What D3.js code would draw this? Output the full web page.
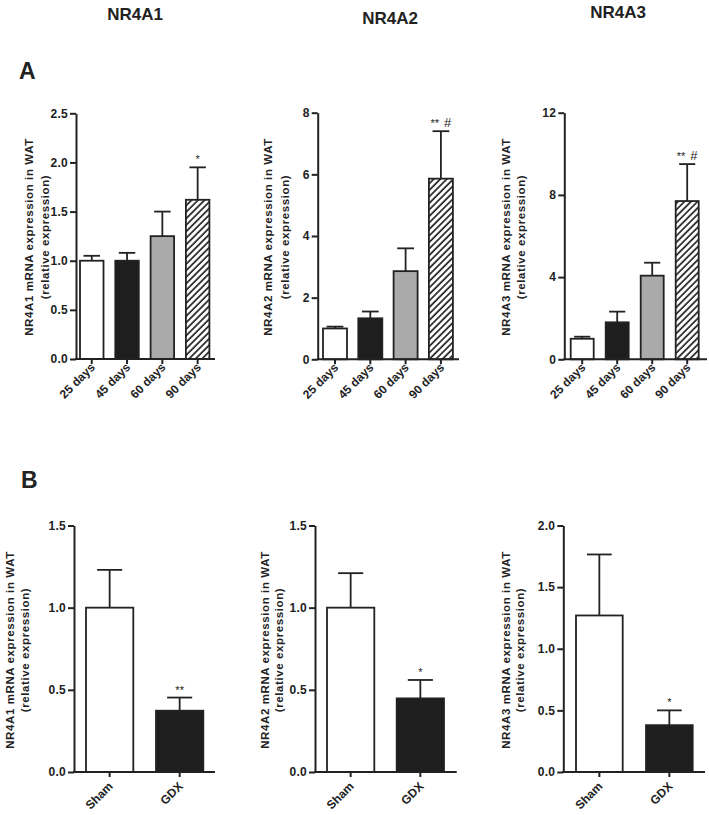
<!DOCTYPE html>
<html>
<head>
<meta charset="utf-8">
<script src="https://cdn.jsdelivr.net/npm/d3@7"></script>
<style>
  html, body { margin: 0; padding: 0; background: #fff; }
  svg { display: block; }
  text { font-family: "Liberation Sans", Arial, Helvetica, sans-serif; font-weight: bold; fill: #222; }
</style>
</head>
<body>
<svg id="chart" width="709" height="815"></svg>
<script>
// ---------------- DATA ----------------
const geneTitles = ["NR4A1", "NR4A2", "NR4A3"];
const ageCategories = ["25 days", "45 days", "60 days", "90 days"];
const gdxCategories = ["Sham", "GDX"];

const nr4a1Age = [1.00, 1.00, 1.25, 1.62];
const nr4a1AgeSem = [0.05, 0.08, 0.25, 0.33];
const nr4a2Age = [1.00, 1.33, 2.86, 5.86];
const nr4a2AgeSem = [0.06, 0.22, 0.74, 1.54];
const nr4a3Age = [1.00, 1.80, 4.07, 7.70];
const nr4a3AgeSem = [0.10, 0.52, 0.63, 1.80];

const nr4a1Gdx = [1.00, 0.373];
const nr4a1GdxSem = [0.23, 0.08];
const nr4a2Gdx = [1.00, 0.448];
const nr4a2GdxSem = [0.21, 0.112];
const nr4a3Gdx = [1.27, 0.38];
const nr4a3GdxSem = [0.495, 0.12];

// significance marks: [stars, hash]
const nr4a1AgeMarks = [null, null, null, ["*", ""]];
const nr4a2AgeMarks = [null, null, null, ["**", "#"]];
const nr4a3AgeMarks = [null, null, null, ["**", "#"]];
const nr4a1GdxMarks = [null, ["**", ""]];
const nr4a2GdxMarks = [null, ["*", ""]];
const nr4a3GdxMarks = [null, ["*", ""]];

const ticksA1 = [0, 0.5, 1.0, 1.5, 2.0, 2.5];
const ticksA2 = [0, 2, 4, 6, 8];
const ticksA3 = [0, 4, 8, 12];
const ticksB12 = [0, 0.5, 1.0, 1.5];
const ticksB3 = [0, 0.5, 1.0, 1.5, 2.0];

// ---------------- STYLE / LAYOUT ----------------
const ink = "#222";
const ageFills = ["#ffffff", "#1e1e1e", "#a9aaa9", "url(#hatch)"];
const gdxFills = ["#ffffff", "#1e1e1e"];

const svg = d3.select("#chart");
svg.append("rect").attr("width", 709).attr("height", 815).attr("fill", "#fff");

const defs = svg.append("defs");
const pat = defs.append("pattern")
  .attr("id", "hatch").attr("patternUnits", "userSpaceOnUse")
  .attr("width", 4.6).attr("height", 10)
  .attr("patternTransform", "rotate(45)");
pat.append("rect").attr("width", 4.6).attr("height", 10).attr("fill", "#fff");
pat.append("line").attr("x1", 1).attr("x2", 1).attr("y1", 0).attr("y2", 10)
  .attr("stroke", ink).attr("stroke-width", 1.7);

// titles
const titlePos = [[135, 20], [390, 24], [618, 18]];
geneTitles.forEach((t, i) => {
  svg.append("text").attr("x", titlePos[i][0]).attr("y", titlePos[i][1])
    .attr("text-anchor", "middle").style("font-size", "17px").text(t);
});
svg.append("text").attr("x", 19).attr("y", 79).style("font-size", "23px").text("A");
svg.append("text").attr("x", 21).attr("y", 488).style("font-size", "23px").text("B");

const panels = [
  { gene: "NR4A1", cats: ageCategories, vals: nr4a1Age, sem: nr4a1AgeSem, marks: nr4a1AgeMarks, fills: ageFills,
    ticks: ticksA1, fmt: ".1f", axisX: 76, yTop: 113.3, yBot: 359, firstBar: 80, step: 35.3, bw: 23.5, axisEnd: 215,
    capRatio: 0.7, lab1: 33, lab2: 48.5, labY: 237, xl: [4, 9] },
  { gene: "NR4A2", cats: ageCategories, vals: nr4a2Age, sem: nr4a2AgeSem, marks: nr4a2AgeMarks, fills: ageFills,
    ticks: ticksA2, fmt: "d", axisX: 317.7, yTop: 112.7, yBot: 359.3, firstBar: 323, step: 35.3, bw: 24, axisEnd: 459,
    capRatio: 0.7, lab1: 271.5, lab2: 288.5, labY: 237, xl: [4, 9] },
  { gene: "NR4A3", cats: ageCategories, vals: nr4a3Age, sem: nr4a3AgeSem, marks: nr4a3AgeMarks, fills: ageFills,
    ticks: ticksA3, fmt: "d", axisX: 564.3, yTop: 112.7, yBot: 359.3, firstBar: 570.7, step: 35, bw: 23, axisEnd: 707,
    capRatio: 0.7, lab1: 509.5, lab2: 525, labY: 237, xl: [4, 9] },
  { gene: "NR4A1", cats: gdxCategories, vals: nr4a1Gdx, sem: nr4a1GdxSem, marks: nr4a1GdxMarks, fills: gdxFills,
    ticks: ticksB12, fmt: ".1f", axisX: 74, yTop: 525.5, yBot: 772, firstBar: 86, step: 70, bw: 47.3, axisEnd: 215,
    capRatio: 0.53, lab1: 14, lab2: 29, labY: 650, xl: [4, 15] },
  { gene: "NR4A2", cats: gdxCategories, vals: nr4a2Gdx, sem: nr4a2GdxSem, marks: nr4a2GdxMarks, fills: gdxFills,
    ticks: ticksB12, fmt: ".1f", axisX: 315, yTop: 525.5, yBot: 772, firstBar: 327, step: 69.7, bw: 47.3, axisEnd: 456.7,
    capRatio: 0.53, lab1: 268.5, lab2: 283, labY: 650, xl: [4, 15] },
  { gene: "NR4A3", cats: gdxCategories, vals: nr4a3Gdx, sem: nr4a3GdxSem, marks: nr4a3GdxMarks, fills: gdxFills,
    ticks: ticksB3, fmt: ".1f", axisX: 563.3, yTop: 525.5, yBot: 772, firstBar: 576, step: 70, bw: 46.7, axisEnd: 705,
    capRatio: 0.53, lab1: 509.5, lab2: 524, labY: 650, xl: [4, 15] }
];

panels.forEach(p => {
  const g = svg.append("g");
  const n = p.cats.length;
  const pad = 1 - p.bw / p.step;
  const x = d3.scaleBand().domain(p.cats)
    .range([p.firstBar, p.firstBar + p.step * (n - pad)])
    .paddingInner(pad).paddingOuter(0);
  const y = d3.scaleLinear().domain([0, d3.max(p.ticks)]).range([p.yBot, p.yTop]);

  // bars
  g.selectAll("rect.bar").data(p.vals).join("rect")
    .attr("x", (d, i) => x(p.cats[i]))
    .attr("y", d => y(d))
    .attr("width", x.bandwidth())
    .attr("height", d => y(0) - y(d))
    .attr("fill", (d, i) => p.fills[i])
    .attr("stroke", ink).attr("stroke-width", 1.8);

  // error bars (upper only)
  const capW = x.bandwidth() * p.capRatio;
  p.vals.forEach((v, i) => {
    const cx = x(p.cats[i]) + x.bandwidth() / 2;
    const top = y(v + p.sem[i]);
    g.append("line").attr("x1", cx).attr("x2", cx).attr("y1", y(v)).attr("y2", top)
      .attr("stroke", ink).attr("stroke-width", 1.8);
    g.append("line").attr("x1", cx - capW / 2).attr("x2", cx + capW / 2).attr("y1", top).attr("y2", top)
      .attr("stroke", ink).attr("stroke-width", 1.8);
    const m = p.marks[i];
    if (m) {
      const t = g.append("text").attr("x", cx).attr("y", top - 4)
        .attr("text-anchor", "middle").style("font-weight", "normal");
      t.append("tspan").style("font-size", "11px").text(m[0]);
      if (m[1]) {
        t.append("tspan").attr("dx", 5).style("font-size", "13px").text(m[1]);
      }
    }
  });

  // y axis
  const yAxis = d3.axisLeft(y).tickValues(p.ticks).tickFormat(d3.format(p.fmt))
    .tickSize(6).tickSizeOuter(0).tickPadding(2);
  const ga = g.append("g").attr("transform", `translate(${p.axisX},0)`).call(yAxis);
  ga.select(".domain").attr("stroke", ink).attr("stroke-width", 2);
  ga.selectAll(".tick line").attr("stroke", ink).attr("stroke-width", 2);
  ga.selectAll(".tick text").attr("fill", ink)
    .style("font-family", "'Liberation Sans', Arial, sans-serif").style("font-weight", "bold")
    .style("font-size", "12px").style("letter-spacing", "0.3px");

  // x axis
  const xAxis = d3.axisBottom(x).tickSize(5).tickSizeOuter(0);
  const gx = g.append("g").attr("transform", `translate(0,${p.yBot})`).call(xAxis);
  gx.select(".domain").remove();
  gx.append("line").attr("x1", p.axisX - 1).attr("x2", p.axisEnd).attr("y1", 0).attr("y2", 0)
    .attr("stroke", ink).attr("stroke-width", 2);
  gx.selectAll(".tick line").attr("stroke", ink).attr("stroke-width", 2);
  gx.selectAll(".tick text").attr("fill", ink)
    .style("font-family", "'Liberation Sans', Arial, sans-serif").style("font-weight", "bold")
    .style("font-size", "12px")
    .attr("text-anchor", "end").attr("dy", null).attr("y", null)
    .attr("transform", `translate(${p.xl[0]},${p.xl[1]}) rotate(-45)`);

  // y label
  g.append("text")
    .attr("transform", `translate(${p.lab1},${p.labY}) rotate(-90)`)
    .attr("text-anchor", "middle").style("font-size", "11.5px").style("letter-spacing", "0.6px")
    .text(`${p.gene} mRNA expression in WAT`);
  g.append("text")
    .attr("transform", `translate(${p.lab2},${p.labY}) rotate(-90)`)
    .attr("text-anchor", "middle").style("font-size", "11.5px").style("letter-spacing", "0.6px")
    .text("(relative expression)");
});
</script>
</body>
</html>
